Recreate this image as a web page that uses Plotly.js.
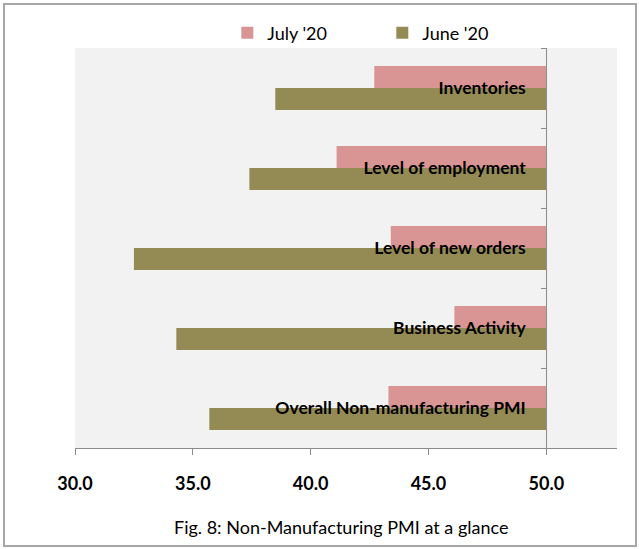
<!DOCTYPE html>
<html>
<head>
<meta charset="utf-8">
<script src="https://cdn.plot.ly/plotly-3.0.1.min.js"></script>
<style>
html,body{margin:0;padding:0;background:#fff;}
#frame{position:absolute;left:3px;top:3px;width:630px;height:540px;border:2px solid #a6a6a6;}
#chart{position:absolute;left:0;top:0;width:639px;height:549px;}
</style>
</head>
<body>
<div id="frame"></div>
<div id="chart"></div>
<script>
var categories = ["Overall Non-manufacturing PMI", "Business Activity", "Level of new orders", "Level of employment", "Inventories"];
var july20 = [43.3, 46.1, 43.4, 41.1, 42.7];
var june20 = [35.7, 34.3, 32.5, 37.4, 38.5];
var baseLine = 50;
var xTicks = [30, 35, 40, 45, 50];

var traces = [
  {type:'bar', orientation:'h', name:"June '20", y:categories,
   x:june20.map(function(v){return v-baseLine;}), base:baseLine,
   marker:{color:'#948A54', line:{width:0}}, hoverinfo:'skip'},
  {type:'bar', orientation:'h', name:"July '20", y:categories,
   x:july20.map(function(v){return v-baseLine;}), base:baseLine,
   marker:{color:'#D99594', line:{width:0}}, hoverinfo:'skip'}
];

var layout = {
  width:639, height:549,
  margin:{l:75, r:22, t:48, b:101},
  paper_bgcolor:'rgba(0,0,0,0)',
  plot_bgcolor:'#F2F2F2',
  barmode:'group', bargap:0.45, bargroupgap:0,
  font:{family:'Lato, "Open Sans", sans-serif', color:'#000'},
  showlegend:true,
  legend:{orientation:'h', traceorder:'reversed', x:0.567, xanchor:'center', y:1.0375, yanchor:'middle',
          font:{size:18, color:'#000'}, bgcolor:'rgba(0,0,0,0)', entrywidth:110},
  xaxis:{range:[30,53], tickvals:xTicks, tickformat:'.1f', showgrid:false, zeroline:false,
         showline:true, linecolor:'#8c8c8c', linewidth:1, ticks:'outside', ticklen:6, tickcolor:'#8c8c8c',
         tickfont:{size:18, family:'Lato', weight:'bold', color:'#000'}, ticklabelstandoff:13, fixedrange:true},
  yaxis:{type:'category', categoryorder:'array', categoryarray:categories, anchor:'free', position:(baseLine-30)/23,
         side:'left', showline:true, linecolor:'#8c8c8c', linewidth:1, ticks:'outside', ticklen:5, tickcolor:'#8c8c8c',
         tickson:'boundaries', showgrid:false, zeroline:false,
         tickfont:{size:17.5, family:'Lato', weight:'bold', color:'#000'}, ticklabelstandoff:17, fixedrange:true},
  annotations:[{text:'Fig. 8: Non-Manufacturing PMI at a glance', xref:'paper', yref:'paper', x:0.49, y:-0.1975,
                xanchor:'center', yanchor:'middle', showarrow:false, font:{size:18, color:'#000', family:'Lato'}}]
};

Plotly.newPlot('chart', traces, layout, {displayModeBar:false, staticPlot:true});
</script>
</body>
</html>
